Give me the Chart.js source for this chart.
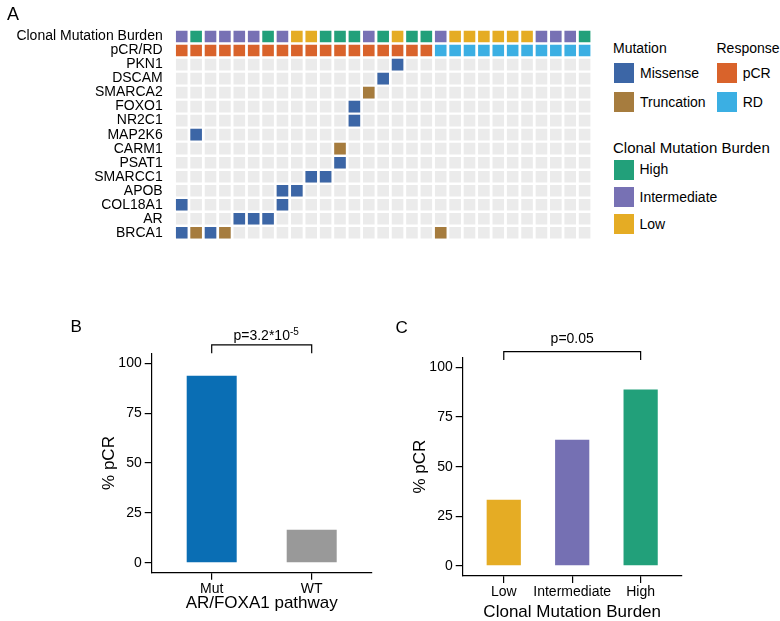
<!DOCTYPE html>
<html><head><meta charset="utf-8">
<script src="https://cdn.jsdelivr.net/npm/chart.js@4.4.1/dist/chart.umd.min.js"></script>
<style>
body{margin:0;background:#fff;width:780px;height:621px;overflow:hidden;position:relative;font-family:"Liberation Sans",Arial,sans-serif;color:#000}
canvas{position:absolute}
.t{position:absolute;white-space:nowrap;font-size:14px;line-height:16px}
.sw{position:absolute;width:20px;height:20px}
.p{position:absolute;line-height:20px;font-size:17px}
</style></head><body>
<canvas id="cA" width="600" height="260" style="left:0;top:0"></canvas>
<canvas id="cB" width="330" height="321" style="left:60px;top:300px"></canvas>
<canvas id="cC" width="390" height="321" style="left:390px;top:300px"></canvas>

<div class="p" style="left:7px;top:3.7px;font-size:18px;line-height:20px">A</div>
<div class="p" style="left:70.5px;top:317px">B</div>
<div class="p" style="left:395.5px;top:318px">C</div>

<div class="t" style="left:613px;top:40px">Mutation</div>
<div class="sw" style="left:614px;top:63.3px;background:#3C66A6"></div>
<div class="t" style="left:640px;top:65px">Missense</div>
<div class="sw" style="left:614px;top:91.7px;background:#A67C3E"></div>
<div class="t" style="left:640px;top:93.5px">Truncation</div>
<div class="t" style="left:716.5px;top:40px">Response</div>
<div class="sw" style="left:716.7px;top:63.3px;background:#D9632B"></div>
<div class="t" style="left:742.7px;top:65px">pCR</div>
<div class="sw" style="left:716.7px;top:91.7px;background:#3BAFE3"></div>
<div class="t" style="left:742.7px;top:93.5px">RD</div>
<div class="t" style="left:613px;top:138.5px;font-size:15px;line-height:17px">Clonal Mutation Burden</div>
<div class="sw" style="left:614px;top:160px;background:#22A07A"></div>
<div class="t" style="left:639.5px;top:161px">High</div>
<div class="sw" style="left:614px;top:187.3px;background:#7771B4"></div>
<div class="t" style="left:639.5px;top:188.5px">Intermediate</div>
<div class="sw" style="left:614px;top:214.3px;background:#E5AC24"></div>
<div class="t" style="left:639.5px;top:215.5px">Low</div>

<script>
// ---------- Panel A data ----------
const rowLabels = ['Clonal Mutation Burden','pCR/RD','PKN1','DSCAM','SMARCA2','FOXO1','NR2C1','MAP2K6','CARM1','PSAT1','SMARCC1','APOB','COL18A1','AR','BRCA1'];
const genes = ['PKN1','DSCAM','SMARCA2','FOXO1','NR2C1','MAP2K6','CARM1','PSAT1','SMARCC1','APOB','COL18A1','AR','BRCA1'];
const burden = ['Intermediate','High','Intermediate','Intermediate','Intermediate','Intermediate','High','Intermediate','Low','Low',
                'High','High','High','Intermediate','High','Low','High','High','Intermediate','Low',
                'Low','Low','Low','Low','Low','Intermediate','Intermediate','Intermediate','High'];
const response = ['pCR','pCR','pCR','pCR','pCR','pCR','pCR','pCR','pCR','pCR',
                  'pCR','pCR','pCR','pCR','pCR','pCR','pCR','pCR','RD','RD',
                  'RD','RD','RD','RD','RD','RD','RD','RD','RD'];
const missense = [['PKN1',15],['DSCAM',14],['FOXO1',12],['NR2C1',12],['MAP2K6',1],['PSAT1',11],
                  ['SMARCC1',9],['SMARCC1',10],['APOB',7],['APOB',8],['COL18A1',0],['COL18A1',7],
                  ['AR',4],['AR',5],['AR',6],['BRCA1',0],['BRCA1',2]];
const truncation = [['SMARCA2',13],['CARM1',11],['BRCA1',1],['BRCA1',3],['BRCA1',18]];

// ---------- Panel B data ----------
const catsB = ['Mut','WT'];
const pcrB = [93.8, 16.5];
// ---------- Panel C data ----------
const catsC = ['Low','Intermediate','High'];
const pcrC = [33.3, 63.6, 88.9];
const yTicks = [0, 25, 50, 75, 100];

const COL = {
  Missense:'#3C66A6', Truncation:'#A67C3E', pCR:'#D9632B', RD:'#3BAFE3',
  High:'#22A07A', Intermediate:'#7771B4', Low:'#E5AC24', none:'#EBEBEB'
};

Chart.defaults.font.family = '"Liberation Sans", Arial, sans-serif';
Chart.defaults.color = '#000';

// ---------- Panel A ----------
const nS = burden.length;
const grey = [];
genes.forEach(g => { for (let c = 0; c < nS; c++) grey.push({x: c, y: g}); });
const annot = (arr, row, val) => arr.map((v, i) => v === val ? {x: i, y: row} : null).filter(Boolean);
const mk = (label, data, color) => ({label, data, backgroundColor: color, borderWidth: 0,
  pointStyle: 'rect', pointRadius: 8.2, pointHoverRadius: 8.2, pointBorderWidth: 0});

new Chart(document.getElementById('cA'), {
  type: 'scatter',
  data: { datasets: [
    mk('Missense', missense.map(([g, c]) => ({x: c, y: g})), COL.Missense),
    mk('Truncation', truncation.map(([g, c]) => ({x: c, y: g})), COL.Truncation),
    mk('High', annot(burden, rowLabels[0], 'High'), COL.High),
    mk('Intermediate', annot(burden, rowLabels[0], 'Intermediate'), COL.Intermediate),
    mk('Low', annot(burden, rowLabels[0], 'Low'), COL.Low),
    mk('pCR', annot(response, rowLabels[1], 'pCR'), COL.pCR),
    mk('RD', annot(response, rowLabels[1], 'RD'), COL.RD),
    mk('none', grey, COL.none)
  ]},
  options: {
    responsive: false, animation: false, events: [],
    layout: {padding: {left: 0, top: 29.55, right: 7.85, bottom: 14.45}},
    plugins: {legend: {display: false}, tooltip: {enabled: false}},
    scales: {
      x: {type: 'linear', min: -0.5, max: nS - 0.5, display: false},
      y: {type: 'category', labels: rowLabels, offset: true,
          grid: {display: false, drawTicks: false}, border: {display: false},
          ticks: {autoSkip: false, padding: 11.85, font: {size: 14}, color: '#000'},
          afterFit: s => { s.width = 174.55; }}
    }
  }
});

// ---------- Panels B & C ----------
const bracketPlugin = {
  id: 'bracket',
  afterDraw(chart, args, o) {
    const {ctx, scales: {x, y}} = chart;
    const x1 = x.getPixelForValue(o.from), x2 = x.getPixelForValue(o.to);
    const yb = y.getPixelForValue(o.top), yl = y.getPixelForValue(o.leg);
    ctx.save();
    ctx.strokeStyle = '#000'; ctx.lineWidth = 1.2;
    ctx.beginPath(); ctx.moveTo(x1, yl); ctx.lineTo(x1, yb); ctx.lineTo(x2, yb); ctx.lineTo(x2, yl); ctx.stroke();
    ctx.fillStyle = '#000'; ctx.textBaseline = 'alphabetic';
    ctx.font = '14px "Liberation Sans", Arial, sans-serif';
    const w = ctx.measureText(o.text).width;
    const cx = (x1 + x2) / 2, by = yb - o.gap;
    ctx.textAlign = 'left';
    ctx.fillText(o.text, cx - w / 2, by);
    if (o.sup) {
      ctx.font = '10px "Liberation Sans", Arial, sans-serif';
      ctx.fillText(o.sup, cx + w / 2, by - 5);
    }
    ctx.restore();
  }
};

function barChart(id, cats, vals, colors, geo, xTitle, bracket) {
  const n = cats.length;
  return new Chart(document.getElementById(id), {
    type: 'bar',
    data: { datasets: [{ data: vals.map((v, i) => ({x: i, y: v})), backgroundColor: colors,
      borderWidth: 0, barPercentage: 0.5, categoryPercentage: 1 }]},
    plugins: [bracketPlugin],
    options: {
      responsive: false, animation: false, events: [],
      layout: {padding: {left: 0, top: geo.top, right: geo.right, bottom: 0}},
      plugins: {legend: {display: false}, tooltip: {enabled: false}, bracket},
      scales: {
        x: {type: 'linear', min: -0.6, max: n - 0.4, offset: false,
            afterBuildTicks: s => { s.ticks = cats.map((c, i) => ({value: i})); },
            afterFit: s => { s.height = geo.xh; },
            grid: {offset: false, drawOnChartArea: false, drawTicks: true, tickLength: 7, color: '#000', lineWidth: 1.2},
            border: {display: true, color: '#000', width: 1.2},
            ticks: {callback: v => cats[v], font: {size: 14}, color: '#000', padding: 1, maxRotation: 0, autoSkip: false},
            title: {display: true, text: xTitle, font: {size: 17}, color: '#000', padding: {top: 0, bottom: geo.xtp}}},
        y: {min: -5, max: 105,
            afterBuildTicks: s => { s.ticks = yTicks.map(v => ({value: v})); },
            afterFit: s => { s.width = geo.yw; },
            grid: {drawOnChartArea: false, drawTicks: true, tickLength: 7, color: '#000', lineWidth: 1.2},
            border: {display: true, color: '#000', width: 1.2},
            ticks: {font: {size: 14}, color: '#000', padding: 3},
            title: {display: true, text: '% pCR', font: {size: 17}, color: '#000', padding: {top: geo.ytp, bottom: 0}}}
      }
    }
  });
}

barChart('cB', catsB, pcrB, ['#0A6EB4', '#999999'],
  {top: 53.3, right: 18.3, xh: 48.3, yw: 91.7, xtp: 7.4, ytp: 38.8}, 'AR/FOXA1 pathway',
  {from: 0, to: 1, top: 109.2, leg: 105, gap: 5, text: 'p=3.2*10', sup: '-5'});

barChart('cC', catsC, pcrC, [COL.Low, '#7570B3', COL.High],
  {top: 57.4, right: 98.3, xh: 45.1, yw: 72.7, xtp: -1.6, ytp: 19.8}, 'Clonal Mutation Burden',
  {from: 0, to: 2, top: 107.9, leg: 103.7, gap: 8.4, text: 'p=0.05', sup: ''});
</script>
</body></html>
